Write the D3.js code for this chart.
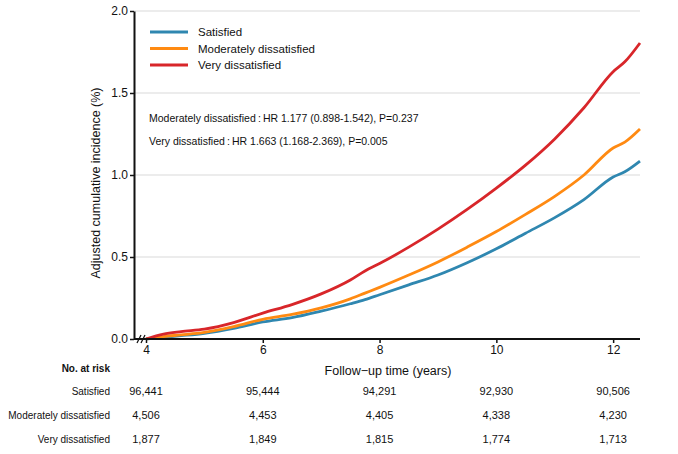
<!DOCTYPE html>
<html>
<head>
<meta charset="utf-8">
<script src="https://cdn.jsdelivr.net/npm/d3@7"></script>
<style>
  body { margin: 0; background: #fff; }
  text { font-family: "Liberation Sans", Arial, sans-serif; fill: #111; }
</style>
</head>
<body>
<div id="chart"></div>
<script>
// Follow-up times (years) and adjusted cumulative incidence (%)
const times = [4.0, 4.3, 4.6, 5.0, 5.5, 6.0, 6.5, 7.0, 7.5, 7.75, 8.0, 8.5, 9.0, 9.5, 10.0, 10.5, 11.0, 11.5, 12.0, 12.2, 12.46];
const satisfied = [0, 0.01, 0.02, 0.035, 0.065, 0.104, 0.13, 0.17, 0.215, 0.24, 0.27, 0.33, 0.39, 0.465, 0.55, 0.645, 0.74, 0.85, 0.988, 1.02, 1.085];
const moderately = [0, 0.015, 0.025, 0.04, 0.075, 0.12, 0.15, 0.19, 0.245, 0.28, 0.315, 0.39, 0.47, 0.56, 0.655, 0.76, 0.87, 1.0, 1.165, 1.2, 1.28];
const very = [0, 0.03, 0.045, 0.06, 0.1, 0.158, 0.21, 0.275, 0.36, 0.415, 0.46, 0.56, 0.67, 0.79, 0.92, 1.06, 1.22, 1.41, 1.63, 1.69, 1.805];

const groups = ["Satisfied", "Moderately dissatisfied", "Very dissatisfied"];
const colors = ["#2f87b0", "#ff8a12", "#d8262a"];

const xTicks = [4, 6, 8, 10, 12];
const yTicks = [0, 0.5, 1.0, 1.5, 2.0];

const atRisk = [
  ["96,441", "95,444", "94,291", "92,930", "90,506"],
  ["4,506", "4,453", "4,405", "4,338", "4,230"],
  ["1,877", "1,849", "1,815", "1,774", "1,713"]
];

const hrLines = [
  "Moderately dissatisfied\u2009:\u2009HR 1.177 (0.898-1.542), P=0.237",
  "Very dissatisfied\u2009:\u2009HR 1.663 (1.168-2.369), P=0.005"
];

const width = 678, height = 454;
const svg = d3.select("#chart").append("svg")
  .attr("width", width).attr("height", height);

const axisX0 = 134, plotRight = 640;
const x = d3.scaleLinear().domain([4, 12.46]).range([146, plotRight]);
const y = d3.scaleLinear().domain([0, 2]).range([339, 11]);

// gridlines
svg.append("g")
  .selectAll("line")
  .data(yTicks.slice(1))
  .join("line")
  .attr("x1", axisX0).attr("x2", plotRight)
  .attr("y1", d => y(d)).attr("y2", d => y(d))
  .attr("stroke", "#e6e6e6").attr("stroke-width", 1.5);

// curves
const series = [satisfied, moderately, very];
const line = d3.line().curve(d3.curveMonotoneX).x(d => x(d[0])).y(d => y(d[1]));
svg.append("g")
  .selectAll("path")
  .data(series)
  .join("path")
  .attr("d", s => line(s.map((v, i) => [times[i], v])))
  .attr("fill", "none")
  .attr("stroke", (d, i) => colors[i])
  .attr("stroke-width", 2.8)
  .attr("stroke-linejoin", "round");

// y axis
const yAxis = svg.append("g")
  .attr("transform", `translate(${axisX0},0)`)
  .call(d3.axisLeft(y).tickValues(yTicks).tickFormat(d3.format(".1f")).tickSize(4).tickSizeOuter(0));
yAxis.select(".domain").attr("stroke", "#111").attr("stroke-width", 2);
yAxis.selectAll(".tick line").attr("stroke", "#111").attr("stroke-width", 1.5);
yAxis.selectAll(".tick text").attr("font-size", 12).attr("fill", "#222").attr("x", -6);

// x axis
const xAxis = svg.append("g")
  .attr("transform", "translate(0,339)")
  .call(d3.axisBottom(x).tickValues(xTicks).tickFormat(d3.format("d")).tickSize(4).tickSizeOuter(0));
xAxis.select(".domain").remove();
xAxis.append("line")
  .attr("x1", axisX0).attr("x2", plotRight)
  .attr("stroke", "#111").attr("stroke-width", 2);
xAxis.selectAll(".tick line").attr("stroke", "#111").attr("stroke-width", 1.5);
xAxis.selectAll(".tick text").attr("font-size", 12).attr("fill", "#222").attr("y", 6);

// axis break marks
const brk = svg.append("g");
[139, 143].forEach(bx => {
  brk.append("line")
    .attr("x1", bx - 2).attr("y1", 343).attr("x2", bx + 2).attr("y2", 335)
    .attr("stroke", "#111").attr("stroke-width", 1.2);
});

// axis titles
svg.append("text")
  .attr("transform", "translate(100,183) rotate(-90)")
  .attr("text-anchor", "middle")
  .attr("font-size", 12.5)
  .text("Adjusted cumulative incidence (%)");

svg.append("text")
  .attr("x", 388).attr("y", 375)
  .attr("text-anchor", "middle")
  .attr("font-size", 12.5)
  .text("Follow\u2212up time (years)");

// legend
const legend = svg.append("g");
groups.forEach((g, i) => {
  const ly = 32 + i * 16.5;
  legend.append("line")
    .attr("x1", 150).attr("x2", 188).attr("y1", ly).attr("y2", ly)
    .attr("stroke", colors[i]).attr("stroke-width", 3);
  legend.append("text")
    .attr("x", 198).attr("y", ly + 4)
    .attr("font-size", 11.5)
    .text(g);
});

// hazard ratio notes
svg.append("g")
  .selectAll("text")
  .data(hrLines)
  .join("text")
  .attr("x", 149).attr("y", (d, i) => 122 + i * 23)
  .attr("font-size", 10.5)
  .text(d => d);

// number at risk table
svg.append("text")
  .attr("x", 110).attr("y", 372)
  .attr("text-anchor", "end")
  .attr("font-size", 10)
  .attr("font-weight", "bold")
  .text("No. at risk");

groups.forEach((g, i) => {
  const ry = 395 + i * 24;
  svg.append("text")
    .attr("x", 110).attr("y", ry)
    .attr("text-anchor", "end")
    .attr("font-size", 10)
    .text(g);
  svg.append("g")
    .selectAll("text")
    .data(atRisk[i])
    .join("text")
    .attr("x", (d, j) => x(xTicks[j]))
    .attr("y", ry)
    .attr("text-anchor", "middle")
    .attr("font-size", 11)
    .text(d => d);
});
</script>
</body>
</html>
